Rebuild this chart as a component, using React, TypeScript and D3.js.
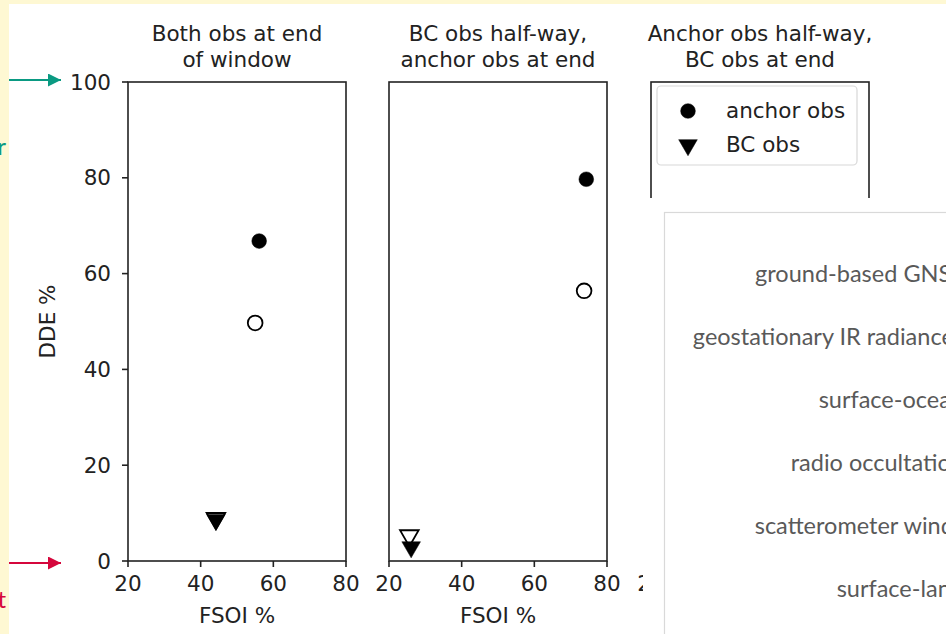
import React from "react";
import * as d3 from "d3";

const panelTitles: string[][] = [
  ["Both obs at end", "of window"],
  ["BC obs half-way,", "anchor obs at end"],
  ["Anchor obs half-way,", "BC obs at end"],
];
const xTicks = [20, 40, 60, 80];
const yTicks = [0, 20, 40, 60, 80, 100];
// [panel, FSOI %, DDE %]
const anchorFilled: [number, number, number][] = [[0, 56.1, 66.8], [1, 74.3, 79.7]];
const anchorOpen: [number, number, number][] = [[0, 55.0, 49.7], [1, 73.7, 56.4]];
const bcOpen: [number, number, number][] = [[0, 44.2, 8.9], [1, 25.6, 5.3]];
const bcFilled: [number, number, number][] = [[0, 44.2, 8.6], [1, 26.1, 2.9]];
const legendItems = ["anchor obs", "BC obs"];
const obsTypes = [
  "ground-based GNSS",
  "geostationary IR radiances",
  "surface-ocean",
  "radio occultation",
  "scatterometer winds",
  "surface-land",
];

const W = 946, H = 634;
const panelLefts = [128, 389, 651];
const panelW = 218;
const top = 82, bottom = 561;
const FONT = "DejaVu Sans, sans-serif";
const INK = "#222";
const FS = 21.5;

const y = d3.scaleLinear().domain([0, 100]).range([bottom, top]);
const xs = panelLefts.map((l) => d3.scaleLinear().domain([20, 80]).range([l, l + panelW]));

const circle = d3.symbol().type(d3.symbolCircle).size(170)()!;
const tri = d3.symbol().type(d3.symbolTriangle).size(150)()!;

function Tri({ cx, cy, filled }: { cx: number; cy: number; filled: boolean }) {
  return (
    <path
      d={tri}
      transform={`translate(${cx},${cy}) rotate(180)`}
      fill={filled ? "#000" : "#fff"}
      stroke="#000"
      strokeWidth={filled ? 0.5 : 1.8}
    />
  );
}
function Circ({ cx, cy, filled }: { cx: number; cy: number; filled: boolean }) {
  return (
    <path
      d={circle}
      transform={`translate(${cx},${cy})`}
      fill={filled ? "#000" : "#fff"}
      stroke="#000"
      strokeWidth={filled ? 0.5 : 1.8}
    />
  );
}

export default function App() {
  const yellow = "#fef8d3";
  const teal = "#0a9a82";
  const red = "#d5073c";
  return (
    <svg width={W} height={H} style={{ position: "absolute", left: 0, top: 0, display: "block" }} fontFamily={FONT}>
      <defs>
        <marker id="ahT" viewBox="0 0 10 10" refX="10" refY="5" markerWidth="7.5" markerHeight="6.5" orient="auto" markerUnits="strokeWidth">
          <path d="M0,0 L10,5 L0,10 z" fill={teal} />
        </marker>
        <marker id="ahR" viewBox="0 0 10 10" refX="10" refY="5" markerWidth="7.5" markerHeight="6.5" orient="auto" markerUnits="strokeWidth">
          <path d="M0,0 L10,5 L0,10 z" fill={red} />
        </marker>
      </defs>
      <rect x={0} y={0} width={W} height={H} fill={yellow} />
      <rect x={9} y={4} width={W - 9} height={H - 4} fill="#fff" />
      {/* annotation arrows from the slide */}
      <line x1={9} y1={80} x2={61} y2={80} stroke={teal} strokeWidth={2} markerEnd="url(#ahT)" />
      <line x1={9} y1={563} x2={61} y2={563} stroke={red} strokeWidth={2} markerEnd="url(#ahR)" />
      <text x={6} y={155} textAnchor="end" fill={teal} fontSize={24} fontFamily="Lato, sans-serif">r</text>
      <text x={6} y={608} textAnchor="end" fill={red} fontSize={24} fontFamily="Lato, sans-serif">t</text>

      {panelTitles.map((t, i) => {
        const cx = panelLefts[i] + panelW / 2;
        return (
          <text key={"t" + i} x={cx} textAnchor="middle" fontSize={FS} fill={INK}>
            <tspan x={cx} y={41}>{t[0]}</tspan>
            <tspan x={cx} y={67}>{t[1]}</tspan>
          </text>
        );
      })}

      {xs.map((xsc, i) => (
        <g key={"p" + i}>
          <rect x={panelLefts[i]} y={top} width={panelW} height={bottom - top} fill="#fff" stroke={INK} strokeWidth={1.6} />
          {xTicks.map((v) => (
            <g key={v}>
              <line x1={xsc(v)} x2={xsc(v)} y1={bottom} y2={bottom + 6} stroke={INK} strokeWidth={1.6} />
              <text x={xsc(v)} y={bottom + 30} textAnchor="middle" fontSize={FS} fill={INK}>{v}</text>
            </g>
          ))}
          <text x={panelLefts[i] + panelW / 2} y={bottom + 62} textAnchor="middle" fontSize={FS} fill={INK}>FSOI %</text>
        </g>
      ))}

      {yTicks.map((v) => (
        <g key={"y" + v}>
          <line x1={panelLefts[0] - 6} x2={panelLefts[0]} y1={y(v)} y2={y(v)} stroke={INK} strokeWidth={1.6} />
          <text x={panelLefts[0] - 17} y={y(v) + 7.5} textAnchor="end" fontSize={FS} fill={INK}>{v}</text>
        </g>
      ))}
      <text transform={`translate(55,${(top + bottom) / 2}) rotate(-90)`} textAnchor="middle" fontSize={FS} fill={INK}>DDE %</text>

      {anchorOpen.map(([p, a, b], k) => <Circ key={"ao" + k} cx={xs[p](a)} cy={y(b)} filled={false} />)}
      {anchorFilled.map(([p, a, b], k) => <Circ key={"af" + k} cx={xs[p](a)} cy={y(b)} filled={true} />)}
      {bcOpen.map(([p, a, b], k) => <Tri key={"bo" + k} cx={xs[p](a)} cy={y(b)} filled={false} />)}
      {bcFilled.map(([p, a, b], k) => <Tri key={"bf" + k} cx={xs[p](a)} cy={y(b)} filled={true} />)}

      {/* legend */}
      <rect x={657} y={86} width={200} height={79} rx={4} fill="#fff" stroke="#d8d8d8" strokeWidth={1.2} />
      {legendItems.map((t, i) => (
        <g key={"l" + i}>
          {i === 0 ? <Circ cx={688} cy={111} filled={true} /> : <Tri cx={688} cy={145} filled={true} />}
          <text x={726} y={118 + i * 34} fontSize={FS} fill={INK}>{t}</text>
        </g>
      ))}

      {/* overlapping slide box */}
      <rect x={643} y={198} width={W - 643} height={H - 198} fill="#fff" />
      <rect x={664.5} y={212.5} width={320} height={460} fill="#fff" stroke="#d9d9d9" strokeWidth={1.2} />
      {obsTypes.map((t, i) => (
        <text key={"o" + i} x={964} y={282 + i * 63} textAnchor="end" fontSize={23.5} fill="#595959" fontFamily="Lato, 'Open Sans', sans-serif">{t}</text>
      ))}
    </svg>
  );
}
